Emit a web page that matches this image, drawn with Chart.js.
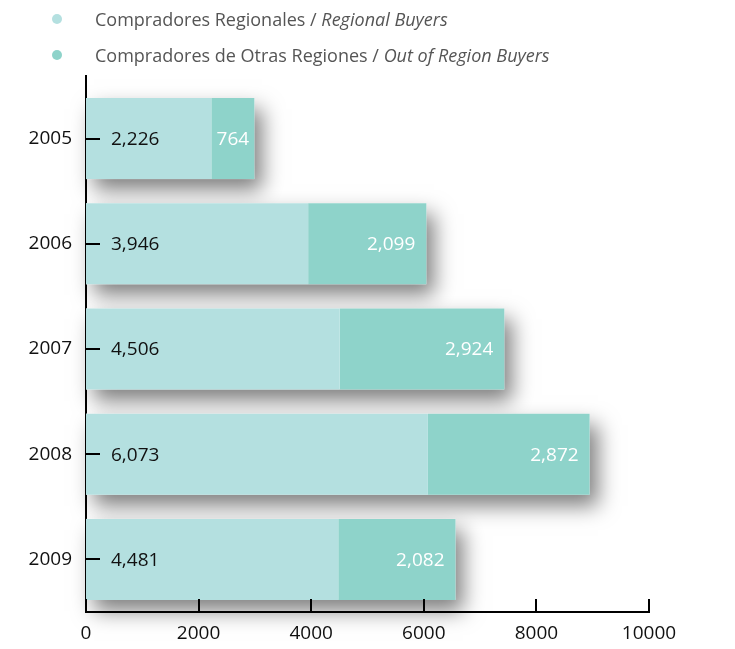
<!DOCTYPE html>
<html lang="es">
<head>
<meta charset="UTF-8" />
<title>Compradores</title>
<script src="https://cdn.jsdelivr.net/npm/chart.js"></script>
<style>
  body { margin: 0; background: #fff; font-family: "Open Sans", sans-serif; }
  #wrap { position: relative; width: 735px; height: 649px; }
  #leyenda { position: absolute; left: 0; top: 0; }
  .item { position: absolute; left: 52px; white-space: nowrap; font-size: 18px; color: #555; }
  .item span.dot { position: absolute; left: 0; top: 50%; width: 10px; height: 10px; margin-top: -5px; border-radius: 50%; }
  .item span.txt { position: absolute; left: 43px; top: 0; line-height: 22px; }
  canvas { position: absolute; left: 0; top: 0; }
</style>
</head>
<body>
<div id="wrap">
  <canvas id="chartCompradores" width="735" height="649"></canvas>
  <div id="leyenda"></div>
</div>

<script>
const anios = ['2005', '2006', '2007', '2008', '2009'];
const regionales = [2226, 3946, 4506, 6073, 4481];
const otrasRegiones = [764, 2099, 2924, 2872, 2082];
const etiquetasSerie = [
  ['Compradores Regionales', 'Regional Buyers'],
  ['Compradores de Otras Regiones', 'Out of Region Buyers']
];
const colores = ['#b4e0e0', '#8ed3ca'];
const ticksX = [0, 2000, 4000, 6000, 8000, 10000];

// leyenda en HTML para poder mezclar normal / cursiva
const leyenda = document.getElementById('leyenda');
etiquetasSerie.forEach((et, i) => {
  const div = document.createElement('div');
  div.className = 'item';
  div.style.top = (8 + i * 36) + 'px';
  div.style.height = '22px';
  div.innerHTML = '<span class="dot" style="background:' + colores[i] + '"></span>' +
    '<span class="txt">' + et[0] + ' / <i>' + et[1] + '</i></span>';
  leyenda.appendChild(div);
});

const fmt = v => v.toLocaleString('en-US');

const sombraPlugin = {
  id: 'sombra',
  beforeDatasetsDraw(chart) {
    const ctx = chart.ctx;
    const m0 = chart.getDatasetMeta(0);
    const m1 = chart.getDatasetMeta(1);
    ctx.save();
    ctx.shadowColor = 'rgba(0,0,0,0.5)';
    ctx.shadowBlur = 20;
    ctx.shadowOffsetX = 8;
    ctx.shadowOffsetY = 11;
    ctx.fillStyle = '#ffffff';
    m0.data.forEach((b0, i) => {
      const b1 = m1.data[i];
      const left = Math.min(b0.base, b0.x);
      const right = Math.max(b1.x, b1.base);
      ctx.fillRect(left, b0.y - b0.height / 2, right - left, b0.height);
    });
    ctx.restore();
  }
};

const etiquetasPlugin = {
  id: 'etiquetas',
  afterDatasetsDraw(chart) {
    const ctx = chart.ctx;
    const m0 = chart.getDatasetMeta(0);
    const m1 = chart.getDatasetMeta(1);
    ctx.save();
    ctx.font = '19px "Open Sans"';
    ctx.textBaseline = 'middle';
    m0.data.forEach((b, i) => {
      ctx.fillStyle = '#111';
      ctx.textAlign = 'left';
      ctx.fillText(fmt(regionales[i]), b.base + 25, b.y + 1);
    });
    m1.data.forEach((b, i) => {
      ctx.fillStyle = '#ffffff';
      const ancho = b.x - b.base;
      if (ancho < 70) {
        ctx.textAlign = 'center';
        ctx.fillText(fmt(otrasRegiones[i]), (b.x + b.base) / 2, b.y + 1);
      } else {
        ctx.textAlign = 'right';
        ctx.fillText(fmt(otrasRegiones[i]), b.x - 11, b.y + 1);
      }
    });
    ctx.restore();
  }
};

const marcasPlugin = {
  id: 'marcas',
  afterDraw(chart) {
    const ctx = chart.ctx;
    const xs = chart.scales.x;
    const ys = chart.scales.y;
    const area = chart.chartArea;
    ctx.save();
    ctx.strokeStyle = '#000';
    ctx.lineWidth = 2;
    ctx.beginPath();
    // prolonga el eje y hacia arriba
    ctx.moveTo(area.left, area.top - 11);
    ctx.lineTo(area.left, area.top);
    ys.ticks.forEach((t, i) => {
      const y = Math.round(ys.getPixelForTick(i));
      ctx.moveTo(area.left, y);
      ctx.lineTo(area.left + 14, y);
    });
    xs.ticks.forEach((t, i) => {
      const x = Math.round(xs.getPixelForTick(i));
      ctx.moveTo(x, area.bottom);
      ctx.lineTo(x, area.bottom - 13);
    });
    ctx.stroke();
    ctx.restore();
  }
};

const ctx = document.getElementById('chartCompradores').getContext('2d');
new Chart(ctx, {
  type: 'bar',
  data: {
    labels: anios,
    datasets: [
      {
        label: etiquetasSerie[0].join(' / '),
        data: regionales,
        backgroundColor: colores[0],
        categoryPercentage: 1,
        barPercentage: 0.77
      },
      {
        label: etiquetasSerie[1].join(' / '),
        data: otrasRegiones,
        backgroundColor: colores[1],
        categoryPercentage: 1,
        barPercentage: 0.77
      }
    ]
  },
  options: {
    indexAxis: 'y',
    responsive: false,
    animation: false,
    layout: { padding: { top: 86, right: 86, left: 0, bottom: 0 } },
    plugins: {
      legend: { display: false },
      tooltip: { enabled: false }
    },
    scales: {
      x: {
        stacked: true,
        min: 0,
        max: 10000,
        afterBuildTicks: s => { s.ticks = ticksX.map(v => ({ value: v })); },
        grid: { display: false, drawTicks: false },
        border: { display: true, color: '#000', width: 2 },
        ticks: {
          color: '#111',
          padding: 10,
          font: { family: 'Open Sans', size: 19 },
          maxRotation: 0,
          callback: v => String(v)
        },
        afterFit: s => { s.height = 37; }
      },
      y: {
        stacked: true,
        grid: { display: false, drawTicks: false },
        border: { display: true, color: '#000', width: 2 },
        ticks: {
          color: '#111',
          padding: 14,
          font: { family: 'Open Sans', size: 19 }
        },
        afterFit: s => { s.width = 86; }
      }
    }
  },
  plugins: [sombraPlugin, etiquetasPlugin, marcasPlugin]
});
</script>
</body>
</html>
